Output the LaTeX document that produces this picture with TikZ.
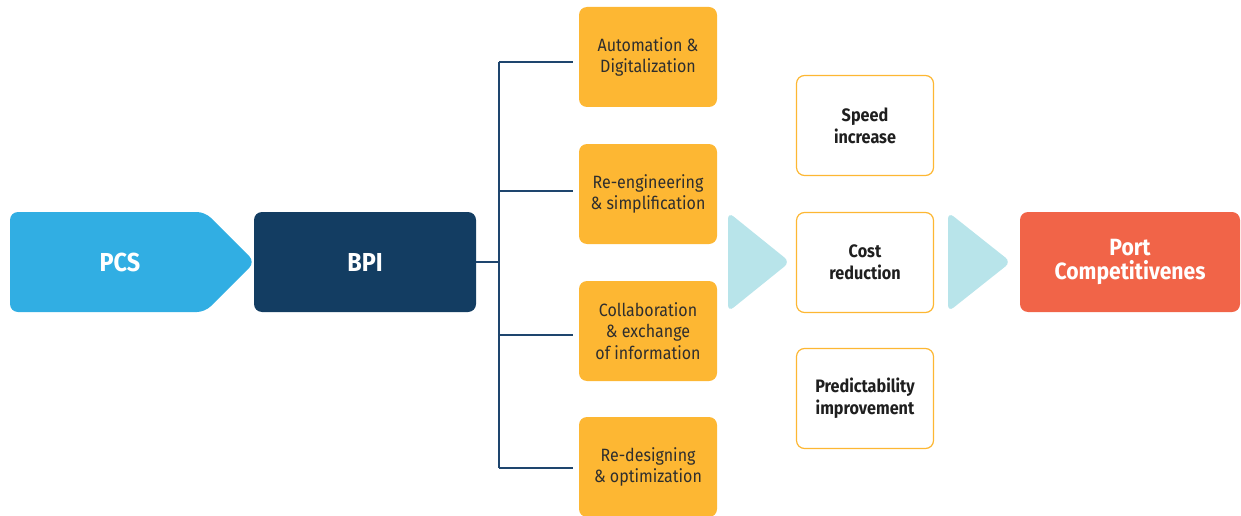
\documentclass[tikz,border=0pt]{standalone}
\usepackage{fontspec}
\setmainfont{Fira Sans}[FakeStretch=0.9]
\usetikzlibrary{shapes}

\definecolor{pcsBlue}{HTML}{31AEE3}
\definecolor{bpiNavy}{HTML}{133D62}
\definecolor{stepOrange}{HTML}{FDB733}
\definecolor{arrowCyan}{HTML}{B8E4EA}
\definecolor{portRed}{HTML}{F16448}
\definecolor{lineNavy}{HTML}{1E456E}

\begin{document}
\begin{tikzpicture}[x = 1pt, y = -1pt]
\tikzstyle{mainStyle} = [shape = rectangle, rounded corners = 8pt, minimum height = 100pt, text = white, align = center]
\tikzstyle{orangeStyle} = [shape = rectangle, rounded corners = 8pt, fill = stepOrange, minimum width = 138pt, minimum height = 100pt, align = center, text = black!82, font = \fontsize{17.8}{21.5}\selectfont]
\tikzstyle{outcomeStyle} = [shape = rectangle, rounded corners = 8pt, draw = stepOrange, line width = 1.2pt, fill = white, minimum width = 137pt, minimum height = 100pt, align = center, text = black!88, font = \bfseries\fontsize{18}{22}\selectfont]
\tikzstyle{chevronStyle} = [fill = arrowCyan, rounded corners = 7pt]
\tikzstyle{treeStyle} = [draw = lineNavy, line width = 1.3pt]
\useasboundingbox (0,0) rectangle (1241,516);
\fill[pcsBlue, rounded corners = 8pt] (10,212) -- (205,212) -- (255,262) -- (205,312) -- (10,312) -- cycle;
\node[text = white, font = \bfseries\fontsize{26}{28}\selectfont] (pcs) at (120,262) {PCS};
\node[mainStyle, fill = bpiNavy, minimum width = 222pt, font = \bfseries\fontsize{26}{28}\selectfont] (bpi) at (365,262) {BPI};
\node[orangeStyle] (auto) at (648,57) {Automation \&\\Digitalization};
\node[orangeStyle] (reeng) at (648,194) {Re-engineering\\\& simplification};
\node[orangeStyle] (collab) at (648,331) {Collaboration\\\& exchange\\of information};
\node[orangeStyle] (redes) at (648,467) {Re-designing\\\& optimization};
\fill[chevronStyle] (728,212) -- (790,262) -- (728,312) -- cycle;
\node[outcomeStyle] (speed) at (865,125.5) {Speed\\increase};
\node[outcomeStyle] (cost) at (865,262.5) {Cost\\reduction};
\node[outcomeStyle] (predict) at (865,398.5) {Predictability\\improvement};
\fill[chevronStyle] (948,212) -- (1011,262) -- (948,312) -- cycle;
\node[mainStyle, fill = portRed, minimum width = 220pt, font = \bfseries\fontsize{23.5}{24.5}\selectfont] (port) at (1130,262) {Port\\Competitivenes};
\coordinate (hub) at (499,262);
\coordinate (top) at (499,62);
\coordinate (b2) at (499,191);
\coordinate (b3) at (499,335);
\coordinate (bottom) at (499,468);
\draw[treeStyle] (bpi.east) -- (hub);
\draw[treeStyle] (top) -- (bottom);
\draw[treeStyle, shorten >= 6pt] (top) -- (top -| auto.west);
\draw[treeStyle, shorten >= 6pt] (b2) -- (b2 -| reeng.west);
\draw[treeStyle, shorten >= 6pt] (b3) -- (b3 -| collab.west);
\draw[treeStyle, shorten >= 6pt] (bottom) -- (bottom -| redes.west);
\end{tikzpicture}
\end{document}
